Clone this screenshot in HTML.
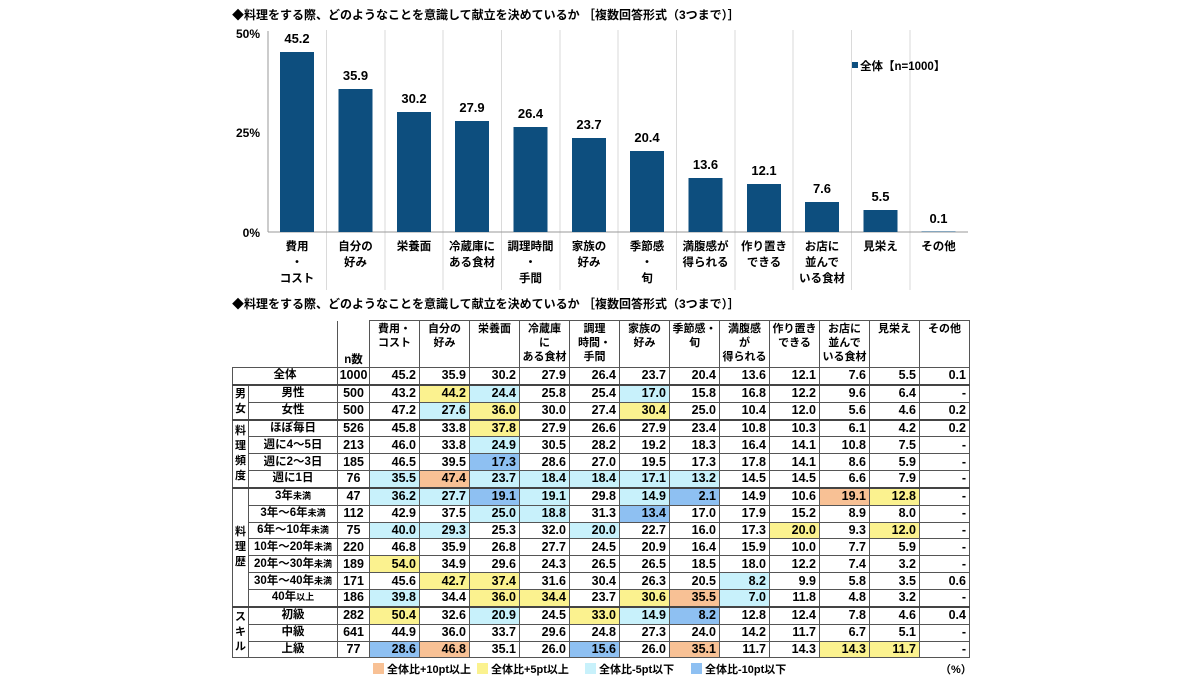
<!DOCTYPE html>
<html><head><meta charset="utf-8">
<style>
body{margin:0;width:1200px;height:675px;background:#fff;position:relative;overflow:hidden;font-family:"Liberation Sans","Noto Sans CJK JP",sans-serif;}
svg{position:absolute;left:0;top:0}
.t{font-weight:bold;fill:#000}
table{position:absolute;left:232px;top:320px;border-collapse:collapse;table-layout:fixed;font-family:"Liberation Sans","Noto Sans CJK JP",sans-serif;font-weight:bold;color:#000}
td{border:1px solid #555;padding:0 3px 0 0;height:15.85px;font-size:12.5px;text-align:right;line-height:15px;white-space:nowrap;overflow:hidden}
tr.h td{height:45px;vertical-align:top;text-align:center;font-size:11px;line-height:14px;padding:1px 0 0 0}
td.l{text-align:center;font-size:11.5px;padding:0}
td.l small{font-size:9px}
td.g{text-align:center;font-size:11px;padding:0;line-height:15px;vertical-align:middle}
td.n{text-align:center;padding:0}
.o{background:#f8c195}.y{background:#fbf28f}.c{background:#c8f1fb}.b{background:#8ec0f2}
tr.s td{border-top:2px solid #444}
.leg{position:absolute;top:661px;font-size:11px;font-weight:bold;white-space:nowrap}
.sw{display:inline-block;width:11px;height:11px;vertical-align:-1px;margin-right:3px}
</style></head><body>
<svg width="1200" height="320">
<text x="232" y="19" class="t" font-size="12">◆料理をする際、どのようなことを意識して献立を決めているか ［複数回答形式（3つまで）］</text>
<g stroke="#dadada" stroke-width="1">
<line x1="326.5" y1="30" x2="326.5" y2="290"/><line x1="385" y1="30" x2="385" y2="290"/><line x1="443" y1="30" x2="443" y2="290"/><line x1="501.5" y1="30" x2="501.5" y2="290"/><line x1="560" y1="30" x2="560" y2="290"/><line x1="618" y1="30" x2="618" y2="290"/><line x1="676.5" y1="30" x2="676.5" y2="290"/><line x1="735" y1="30" x2="735" y2="290"/><line x1="793" y1="30" x2="793" y2="290"/><line x1="851.5" y1="30" x2="851.5" y2="290"/><line x1="910" y1="30" x2="910" y2="290"/>
</g>
<line x1="268" y1="31" x2="268" y2="232" stroke="#999"/>
<line x1="268" y1="232" x2="968" y2="232" stroke="#999"/>
<g font-size="12" class="t" text-anchor="end"><text x="260" y="38">50%</text><text x="260" y="137">25%</text><text x="260" y="237">0%</text></g>
<g fill="#0d4e7e">
<rect x="280" y="52" width="34" height="180"/><rect x="338.5" y="89" width="34" height="143"/><rect x="397" y="112" width="34" height="120"/><rect x="455" y="121" width="34" height="111"/><rect x="513.5" y="127" width="34" height="105"/><rect x="572" y="138" width="34" height="94"/><rect x="630" y="151" width="34" height="81"/><rect x="688.5" y="178" width="34" height="54"/><rect x="747" y="184" width="34" height="48"/><rect x="805" y="202" width="34" height="30"/><rect x="863.5" y="210" width="34" height="22"/><rect x="921.5" y="231.5" width="34" height="0.5"/>
</g>
<g font-size="13" class="t" text-anchor="middle">
<text x="297" y="43">45.2</text><text x="355.5" y="80">35.9</text><text x="414" y="103">30.2</text><text x="472" y="112">27.9</text><text x="530.5" y="118">26.4</text><text x="589" y="129">23.7</text><text x="647" y="142">20.4</text><text x="705.5" y="169">13.6</text><text x="764" y="175">12.1</text><text x="822" y="193">7.6</text><text x="880.5" y="201">5.5</text><text x="938.5" y="223">0.1</text>
</g>
<g font-size="11.5" class="t" text-anchor="middle">
<text x="297" y="250">費用</text><text x="297" y="266">・</text><text x="297" y="282">コスト</text>
<text x="355.5" y="250">自分の</text><text x="355.5" y="266">好み</text>
<text x="414" y="250">栄養面</text>
<text x="472" y="250">冷蔵庫に</text><text x="472" y="266">ある食材</text>
<text x="530.5" y="250">調理時間</text><text x="530.5" y="266">・</text><text x="530.5" y="282">手間</text>
<text x="589" y="250">家族の</text><text x="589" y="266">好み</text>
<text x="647" y="250">季節感</text><text x="647" y="266">・</text><text x="647" y="282">旬</text>
<text x="705.5" y="250">満腹感が</text><text x="705.5" y="266">得られる</text>
<text x="764" y="250">作り置き</text><text x="764" y="266">できる</text>
<text x="822" y="250">お店に</text><text x="822" y="266">並んで</text><text x="822" y="282">いる食材</text>
<text x="880.5" y="250">見栄え</text>
<text x="938.5" y="250">その他</text>
</g>
<rect x="852" y="62" width="6" height="6" fill="#0d4e7e"/>
<text x="860" y="70" font-size="11.5" class="t">全体【n=1000】</text>
<text x="232" y="308" class="t" font-size="12">◆料理をする際、どのようなことを意識して献立を決めているか ［複数回答形式（3つまで）］</text>
</svg>
<table>
<colgroup><col style="width:16px"><col style="width:89px"><col style="width:32px"><col style="width:50px"><col style="width:50px"><col style="width:50px"><col style="width:50px"><col style="width:50px"><col style="width:50px"><col style="width:50px"><col style="width:50px"><col style="width:50px"><col style="width:50px"><col style="width:50px"><col style="width:50px"></colgroup>
<tr class="h"><td colspan="2" style="border-left:none;border-top:none"></td><td style="vertical-align:bottom;border-top:none;font-size:11.5px">n数</td><td>費用・<br>コスト</td><td>自分の<br>好み</td><td>栄養面</td><td>冷蔵庫<br>に<br>ある食材</td><td>調理<br>時間・<br>手間</td><td>家族の<br>好み</td><td>季節感・<br>旬</td><td>満腹感<br>が<br>得られる</td><td>作り置き<br>できる</td><td>お店に<br>並んで<br>いる食材</td><td>見栄え</td><td>その他</td></tr>
<tr><td colspan="2" class="l">全体</td><td class="n">1000</td><td>45.2</td><td>35.9</td><td>30.2</td><td>27.9</td><td>26.4</td><td>23.7</td><td>20.4</td><td>13.6</td><td>12.1</td><td>7.6</td><td>5.5</td><td>0.1</td></tr>
<tr class="s"><td rowspan="2" class="g">男<br>女</td><td class="l">男性</td><td class="n">500</td><td>43.2</td><td class="y">44.2</td><td class="c">24.4</td><td>25.8</td><td>25.4</td><td class="c">17.0</td><td>15.8</td><td>16.8</td><td>12.2</td><td>9.6</td><td>6.4</td><td>-</td></tr>
<tr><td class="l">女性</td><td class="n">500</td><td>47.2</td><td class="c">27.6</td><td class="y">36.0</td><td>30.0</td><td>27.4</td><td class="y">30.4</td><td>25.0</td><td>10.4</td><td>12.0</td><td>5.6</td><td>4.6</td><td>0.2</td></tr>
<tr class="s"><td rowspan="4" class="g">料<br>理<br>頻<br>度</td><td class="l">ほぼ毎日</td><td class="n">526</td><td>45.8</td><td>33.8</td><td class="y">37.8</td><td>27.9</td><td>26.6</td><td>27.9</td><td>23.4</td><td>10.8</td><td>10.3</td><td>6.1</td><td>4.2</td><td>0.2</td></tr>
<tr><td class="l">週に4～5日</td><td class="n">213</td><td>46.0</td><td>33.8</td><td class="c">24.9</td><td>30.5</td><td>28.2</td><td>19.2</td><td>18.3</td><td>16.4</td><td>14.1</td><td>10.8</td><td>7.5</td><td>-</td></tr>
<tr><td class="l">週に2～3日</td><td class="n">185</td><td>46.5</td><td>39.5</td><td class="b">17.3</td><td>28.6</td><td>27.0</td><td>19.5</td><td>17.3</td><td>17.8</td><td>14.1</td><td>8.6</td><td>5.9</td><td>-</td></tr>
<tr><td class="l">週に1日</td><td class="n">76</td><td class="c">35.5</td><td class="o">47.4</td><td class="c">23.7</td><td class="c">18.4</td><td class="c">18.4</td><td class="c">17.1</td><td class="c">13.2</td><td>14.5</td><td>14.5</td><td>6.6</td><td>7.9</td><td>-</td></tr>
<tr class="s"><td rowspan="7" class="g">料<br>理<br>歴</td><td class="l">3年<small>未満</small></td><td class="n">47</td><td class="c">36.2</td><td class="c">27.7</td><td class="b">19.1</td><td class="c">19.1</td><td>29.8</td><td class="c">14.9</td><td class="b">2.1</td><td>14.9</td><td>10.6</td><td class="o">19.1</td><td class="y">12.8</td><td>-</td></tr>
<tr><td class="l">3年～6年<small>未満</small></td><td class="n">112</td><td>42.9</td><td>37.5</td><td class="c">25.0</td><td class="c">18.8</td><td>31.3</td><td class="b">13.4</td><td>17.0</td><td>17.9</td><td>15.2</td><td>8.9</td><td>8.0</td><td>-</td></tr>
<tr><td class="l">6年～10年<small>未満</small></td><td class="n">75</td><td class="c">40.0</td><td class="c">29.3</td><td>25.3</td><td>32.0</td><td class="c">20.0</td><td>22.7</td><td>16.0</td><td>17.3</td><td class="y">20.0</td><td>9.3</td><td class="y">12.0</td><td>-</td></tr>
<tr><td class="l">10年～20年<small>未満</small></td><td class="n">220</td><td>46.8</td><td>35.9</td><td>26.8</td><td>27.7</td><td>24.5</td><td>20.9</td><td>16.4</td><td>15.9</td><td>10.0</td><td>7.7</td><td>5.9</td><td>-</td></tr>
<tr><td class="l">20年～30年<small>未満</small></td><td class="n">189</td><td class="y">54.0</td><td>34.9</td><td>29.6</td><td>24.3</td><td>26.5</td><td>26.5</td><td>18.5</td><td>18.0</td><td>12.2</td><td>7.4</td><td>3.2</td><td>-</td></tr>
<tr><td class="l">30年～40年<small>未満</small></td><td class="n">171</td><td>45.6</td><td class="y">42.7</td><td class="y">37.4</td><td>31.6</td><td>30.4</td><td>26.3</td><td>20.5</td><td class="c">8.2</td><td>9.9</td><td>5.8</td><td>3.5</td><td>0.6</td></tr>
<tr><td class="l">40年<small>以上</small></td><td class="n">186</td><td class="c">39.8</td><td>34.4</td><td class="y">36.0</td><td class="y">34.4</td><td>23.7</td><td class="y">30.6</td><td class="o">35.5</td><td class="c">7.0</td><td>11.8</td><td>4.8</td><td>3.2</td><td>-</td></tr>
<tr class="s"><td rowspan="3" class="g">ス<br>キ<br>ル</td><td class="l">初級</td><td class="n">282</td><td class="y">50.4</td><td>32.6</td><td class="c">20.9</td><td>24.5</td><td class="y">33.0</td><td class="c">14.9</td><td class="b">8.2</td><td>12.8</td><td>12.4</td><td>7.8</td><td>4.6</td><td>0.4</td></tr>
<tr><td class="l">中級</td><td class="n">641</td><td>44.9</td><td>36.0</td><td>33.7</td><td>29.6</td><td>24.8</td><td>27.3</td><td>24.0</td><td>14.2</td><td>11.7</td><td>6.7</td><td>5.1</td><td>-</td></tr>
<tr><td class="l">上級</td><td class="n">77</td><td class="b">28.6</td><td class="o">46.8</td><td>35.1</td><td>26.0</td><td class="b">15.6</td><td>26.0</td><td class="o">35.1</td><td>11.7</td><td>14.3</td><td class="y">14.3</td><td class="y">11.7</td><td>-</td></tr>
</table>
<div class="leg" style="left:373px"><span class="sw o"></span>全体比+10pt以上</div>
<div class="leg" style="left:477px"><span class="sw y"></span>全体比+5pt以上</div>
<div class="leg" style="left:585px"><span class="sw c"></span>全体比-5pt以下</div>
<div class="leg" style="left:691px"><span class="sw b"></span>全体比-10pt以下</div>
<div class="leg" style="left:940px">（%）</div>
</body></html>
